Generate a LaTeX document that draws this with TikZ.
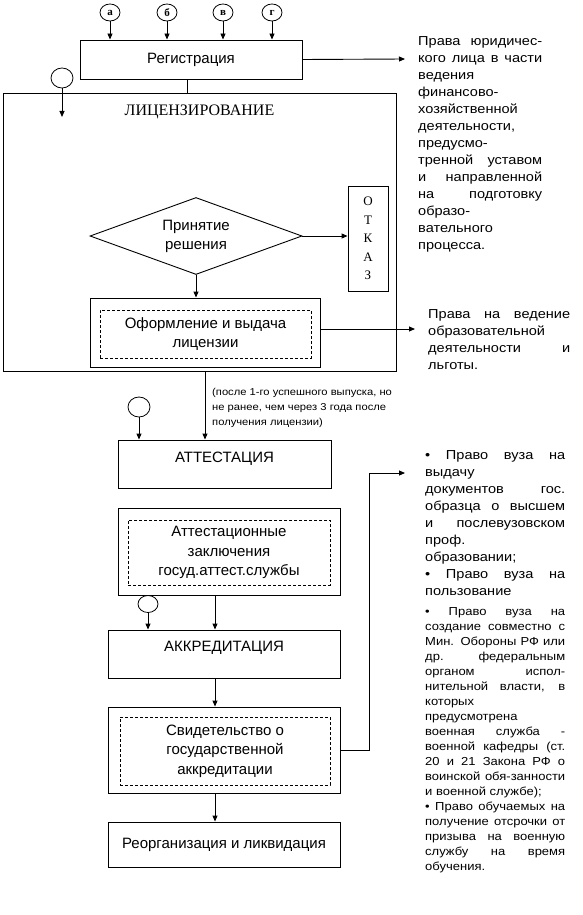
\documentclass[tikz,border=0pt]{standalone}
\usepackage{fontspec}
\setmainfont{Liberation Sans}
\newfontfamily\sercyr{Liberation Serif}
\newfontfamily\widesans[FakeStretch=1.12]{Liberation Sans}
\usetikzlibrary{arrows.meta, shapes.geometric}

\newcommand\jl[1]{\makebox[\hsize][s]{\spaceskip=0pt\xspaceskip=0pt #1}}

\begin{document}
\begin{tikzpicture}[
    x=1pt, y=-1pt,
    box/.style={draw, line width=0.9pt, inner sep=0pt, align=center, font=\fontsize{15}{19.5}\selectfont},
    inbox/.style={draw, line width=0.8pt, dash pattern=on 3pt off 2pt, inner sep=0pt, align=center,
                  font=\fontsize{15}{19.5}\selectfont},
    ring/.style={draw, line width=0.8pt, ellipse, inner sep=0pt, minimum width=20pt, minimum height=17pt,
                 font=\sercyr\bfseries\fontsize{11}{11}\selectfont},
    title/.style={anchor=north, inner sep=0pt, font=\fontsize{15}{15}\selectfont},
    arrow/.style={-{Triangle[length=6pt, width=5pt]}, line width=0.9pt},
    link/.style={line width=0.9pt},
    rights/.style={anchor=base west, inner sep=0pt, align=flush left, font=\widesans\fontsize{13}{17}\selectfont},
]
\useasboundingbox (0,0) rectangle (583,915);

% registration and its four inputs
\node[box, minimum width=222pt, minimum height=39pt] (reg) at (191,59.5) {Регистрация};
\foreach \n/\x/\t in {ra/110/а, rb/167/б, rv/223/в, rg/272/г}
    \node[ring] (\n) at (\x,12.5) {\t};
\foreach \n in {ra, rb, rv, rg}
    \draw[arrow] (\n.south) -- (\n.south |- reg.north);

% licensing block
\node[box, minimum width=393pt, minimum height=278pt,
      label={[title, yshift=-12pt, font=\sercyr\fontsize{16}{16}\selectfont]north:ЛИЦЕНЗИРОВАНИЕ}] (lic) at (199.5,232) {};
\node[draw, diamond, line width=0.9pt, aspect=2.75, minimum width=212pt, minimum height=77pt,
      inner sep=0pt, align=center, font=\fontsize{15}{19}\selectfont] (dec) at (196,236) {Принятие\\решения};
\node[box, minimum width=40pt, minimum height=105pt, font=\sercyr\fontsize{13}{18.5}\selectfont]
    (otkaz) at (368,238.5) {О\\Т\\К\\А\\З};
\node[box, minimum width=230pt, minimum height=69pt] (ofo) at (205,332.5) {};
\node[inbox, minimum width=211pt, minimum height=48pt] (ofoin) at (205.5,334) {Оформление и выдача\\лицензии};

\node[ring, minimum width=22pt, minimum height=20pt] (rlic) at (62,78) {};
\coordinate (rlictip) at (62,117);
\draw[arrow] (rlic.south) -- (rlictip);
\draw[link] ([xshift=-4pt]reg.south) -- ([xshift=-4pt]reg.south |- lic.north);
\draw[arrow] (dec.east) -- (dec.east -| otkaz.west);
\draw[arrow] (dec.south) -- (dec.south |- ofo.north);

% rights texts on the right
\coordinate (t1tip) at (405,59);
\draw[arrow] (reg.east) -- (t1tip);
\node[rights, text width=124pt] (t1) at (418,46) {\jl{Права юридичес-}\\\jl{кого лица в части}\\ведения\\
    финансово-\\хозяйственной\\деятельности,\\предусмо-\\\jl{тренной уставом}\\\jl{и направленной}\\
    \jl{на подготовку}\\образо-\\вательного\\процесса.};

\coordinate (t2tip) at (415,329);
\draw[arrow] (ofo.east |- t2tip) -- (t2tip);
\node[rights, text width=142pt] (t2) at (428,318) {\jl{Права на ведение}\\образовательной\\
    \jl{деятельности и}\\льготы.};

% attestation
\node[anchor=base west, inner sep=0pt, text width=185pt, align=flush left, font=\widesans\fontsize{10}{15}\selectfont]
    (note) at (212,395.5) {(после 1-го успешного выпуска, но\\не ранее, чем через 3 года после\\получения лицензии)};
\node[box, minimum width=213pt, minimum height=48pt,
      label={[title, yshift=-12pt]north:АТТЕСТАЦИЯ}] (att) at (224.5,464) {};
\node[ring, minimum width=22pt, minimum height=20pt] (ratt) at (139,407) {};
\draw[arrow] (ratt.south) -- (ratt.south |- att.north);
\draw[arrow] ([xshift=5.5pt]lic.south) -- ([xshift=5.5pt]lic.south |- att.north);

\node[box, minimum width=222pt, minimum height=87pt] (conc) at (229,551.5) {};
\node[inbox, minimum width=202pt, minimum height=65pt] (concin) at (229,552.5)
    {Аттестационные\\заключения\\госуд.аттест.службы};

% accreditation
\node[box, minimum width=232pt, minimum height=48pt,
      label={[title, yshift=-11.5pt]north:АККРЕДИТАЦИЯ}] (akk) at (224,654) {};
\node[ring] (rakk) at (148,604) {};
\draw[arrow] (rakk.south) -- (rakk.south |- akk.north);
\draw[arrow] ([xshift=-14pt]conc.south) -- ([xshift=-14pt]conc.south |- akk.north);

\node[box, minimum width=232pt, minimum height=86pt] (svid) at (224,750) {};
\node[inbox, minimum width=210pt, minimum height=68pt] (svidin) at (225,751)
    {Свидетельство о\\государственной\\аккредитации};
\draw[arrow] ([xshift=-9pt]akk.south) -- ([xshift=-9pt]akk.south |- svid.north);

\node[box, minimum width=232pt, minimum height=45pt] (reorg) at (224,844.5) {Реорганизация и ликвидация};
\draw[arrow] ([xshift=-9pt]svid.south) -- ([xshift=-9pt]svid.south |- reorg.north);

% rights of the accredited institution
\coordinate (t3tip) at (405,473);
\draw[arrow] (svid.east) -- ++(29,0) |- (t3tip);
\node[rights, text width=140pt] (t3) at (425,459) {\jl{• Право вуза на}\\выдачу\\\jl{документов гос.}\\
    \jl{образца о высшем}\\\jl{и послевузовском}\\проф.\\образовании;\\\jl{• Право вуза на}\\пользование};
\node[rights, text width=140pt, font=\widesans\fontsize{11.6}{15}\selectfont] (t3b) at (425,615.5)
    {\jl{• Право вуза на}\\\jl{создание совместно с}\\\jl{Мин. Обороны РФ или}\\\jl{др. федеральным}\\
    \jl{органом испол-}\\\jl{нительной власти, в}\\которых\\предусмотрена\\\jl{военная служба -}\\
    \jl{военной кафедры (ст.}\\\jl{20 и 21 Закона РФ о}\\\jl{воинской обя-занности}\\и военной службе);\\
    \jl{• Право обучаемых на}\\\jl{получение отсрочки от}\\\jl{призыва на военную}\\\jl{службу на время}\\обучения.};

\end{tikzpicture}
\end{document}
